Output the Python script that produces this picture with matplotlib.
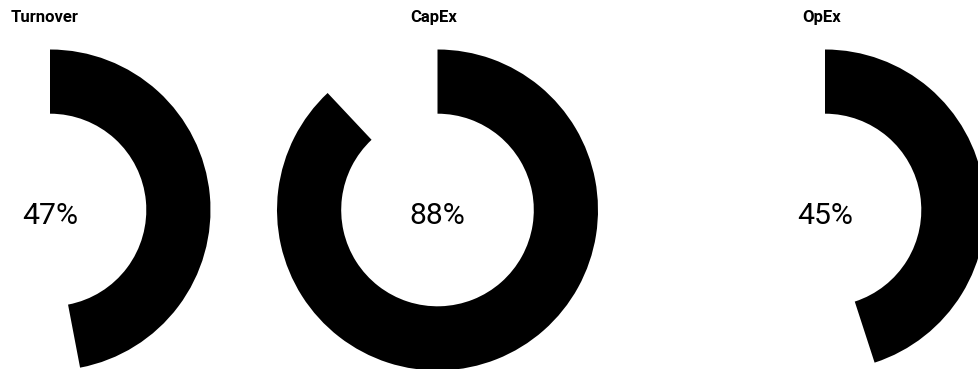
import matplotlib.pyplot as plt

names = ["Turnover", "CapEx", "OpEx"]
values = [47, 88, 45]

W, H = 979, 369
fig = plt.figure(figsize=(W / 100, H / 100), dpi=100)

# donut centres / title positions in pixels (from top-left)
centres = [(50, 210), (437.5, 210), (825, 210)]
title_x = [11, 410, 802]
R = 160.5  # outer radius in px

for name, val, (cx, cy), tx in zip(names, values, centres, title_x):
    ax = fig.add_axes([(cx - R) / W, (H - cy - R) / H, 2 * R / W, 2 * R / H])
    ax.pie([val, 100 - val], colors=["black", "none"], startangle=90,
           counterclock=False, radius=1, wedgeprops=dict(width=0.4, linewidth=0))
    ax.set_xlim(-1, 1)
    ax.set_ylim(-1, 1)
    ax.axis("off")
    ax.text(0, -0.035, f"{val}%", ha="center", va="center",
            fontsize=21.8, family="Roboto", color="black")
    fig.text(tx / W, (H - 22) / H, name, ha="left", va="baseline",
             fontsize=12, fontweight="bold", family="Roboto")

fig.savefig("out.png", dpi=100)
